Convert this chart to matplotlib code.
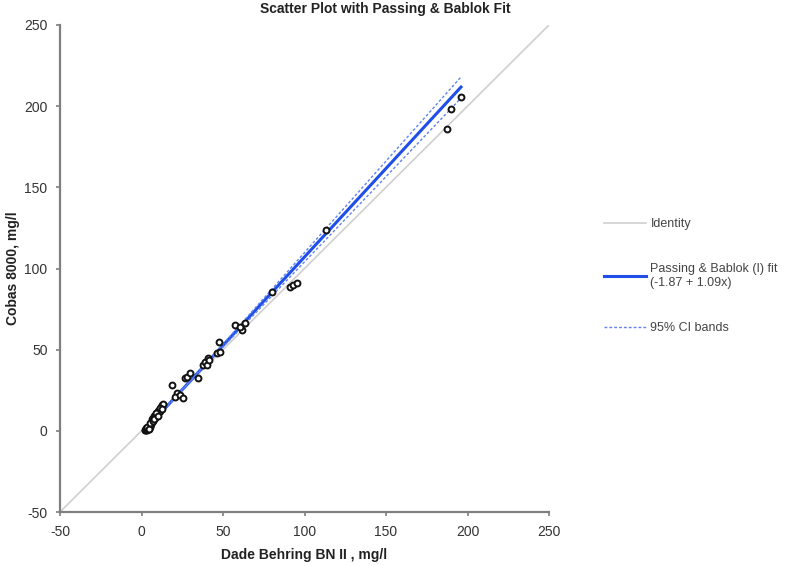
import numpy as np
import matplotlib.pyplot as plt

plt.rcParams['font.family'] = ['Liberation Sans', 'DejaVu Sans']
plt.rcParams['axes.unicode_minus'] = False

x_vals = [2.0, 2.3, 2.6, 3.0, 3.2, 3.5, 3.8, 4.0, 4.3, 4.6, 5.0, 5.2, 5.6, 6.0, 6.3,
          6.5, 7.0, 7.2, 7.6, 8.0, 8.3, 8.8, 9.2, 9.6, 10.0, 10.5, 11.0, 11.6, 12.0, 12.5,
          13.0, 2.8, 3.6, 4.8, 5.4, 6.8, 7.8, 9.0, 10.2, 11.3, 12.8,
          18.7, 21.8, 20.6, 23.6, 25.5, 26.7, 28.0, 29.8, 34.7, 37.7, 39.0, 40.2,
          40.8, 41.5, 46.3, 48.2, 47.5, 57.4, 61.7, 63.5, 60.5, 80.1, 91.1, 93.0, 95.4,
          113.2, 187.4, 190.0, 196.0]
y_vals = [0.5, 0.8, 0.3, 1.2, 0.6, 1.5, 0.9, 2.0, 1.4, 2.6, 3.1, 2.2, 4.0, 4.8, 5.6,
          7.5, 8.2, 6.4, 9.0, 8.0, 9.6, 10.2, 9.0, 11.0, 12.0, 11.4, 13.0, 12.5, 14.5, 15.8,
          16.5, 1.8, 2.4, 1.0, 4.6, 5.8, 7.0, 11.2, 9.4, 14.0, 13.6,
          28.2, 23.3, 20.8, 22.0, 20.2, 32.5, 33.0, 35.6, 32.5, 40.6, 42.4, 40.6,
          45.0, 43.5, 48.0, 48.6, 54.7, 65.2, 62.0, 66.4, 64.0, 85.5, 88.6, 90.0, 91.0,
          123.7, 186.0, 198.0, 205.6]

# Passing & Bablok fit and its 95% CI lines
intercept, slope = -1.87, 1.09
ci_upper = (-2.9, 1.127)
ci_lower = (-0.9, 1.05)

identity = [-50, 250]
ticks = [-50, 0, 50, 100, 150, 200, 250]

fig = plt.figure(figsize=(7.96, 5.66), dpi=100)
ax = fig.add_axes([60 / 796, 1 - 512 / 566, 489 / 796, 487 / 566])

ax.plot(identity, identity, color='#cfcfcf', lw=1.2, label='Identity', zorder=1)

xfit = np.array([min(x_vals), max(x_vals)])
ax.plot(xfit, intercept + slope * xfit, color='#1f4fe8', lw=2.2,
        label='Passing & Bablok (I) fit\n(-1.87 + 1.09x)', zorder=2)
ax.plot(xfit, ci_upper[0] + ci_upper[1] * xfit, color='#5f82f0', lw=1,
        ls=(0, (2, 1.5)), label='95% CI bands', zorder=2)
ax.plot(xfit, ci_lower[0] + ci_lower[1] * xfit, color='#5f82f0', lw=1,
        ls=(0, (2, 1.5)), zorder=2)

ax.scatter(x_vals, y_vals, s=18, facecolors='white', edgecolors='#111111',
           linewidths=1.4, zorder=3)

ax.set_xlim(-50, 250)
ax.set_ylim(-50, 250)
ax.set_xticks(ticks)
ax.set_yticks(ticks)
for s in ['top', 'right']:
    ax.spines[s].set_visible(False)
for s in ['left', 'bottom']:
    ax.spines[s].set_color('#7f7f7f')
    ax.spines[s].set_linewidth(1.6)
ax.tick_params(direction='out', length=3, width=1.2, color='#7f7f7f',
               labelsize=10, labelcolor='#333333', pad=6)

ax.set_xlabel('Dade Behring BN II , mg/l', fontsize=10, fontweight='bold',
              color='#222222')
ax.xaxis.set_label_coords(0.5, -36 / 487)
ax.set_ylabel('Cobas 8000, mg/l', fontsize=10, fontweight='bold',
              color='#222222')
ax.yaxis.set_label_coords(-40 / 489, 0.5)
fig.text(385 / 796, 1 - 9 / 566, 'Scatter Plot with Passing & Bablok Fit',
         ha='center', va='center', fontsize=10, fontweight='bold', color='#222222')

leg = ax.legend(loc='upper left', bbox_to_anchor=(593 / 796, 1 - 207 / 566),
                bbox_transform=fig.transFigure, frameon=False, fontsize=9,
                handlelength=3.3, handletextpad=0.4, labelspacing=2.6)
for t in leg.get_texts():
    t.set_color('#444444')
    t.set_linespacing(1.3)

fig.savefig('out.png', dpi=100)
